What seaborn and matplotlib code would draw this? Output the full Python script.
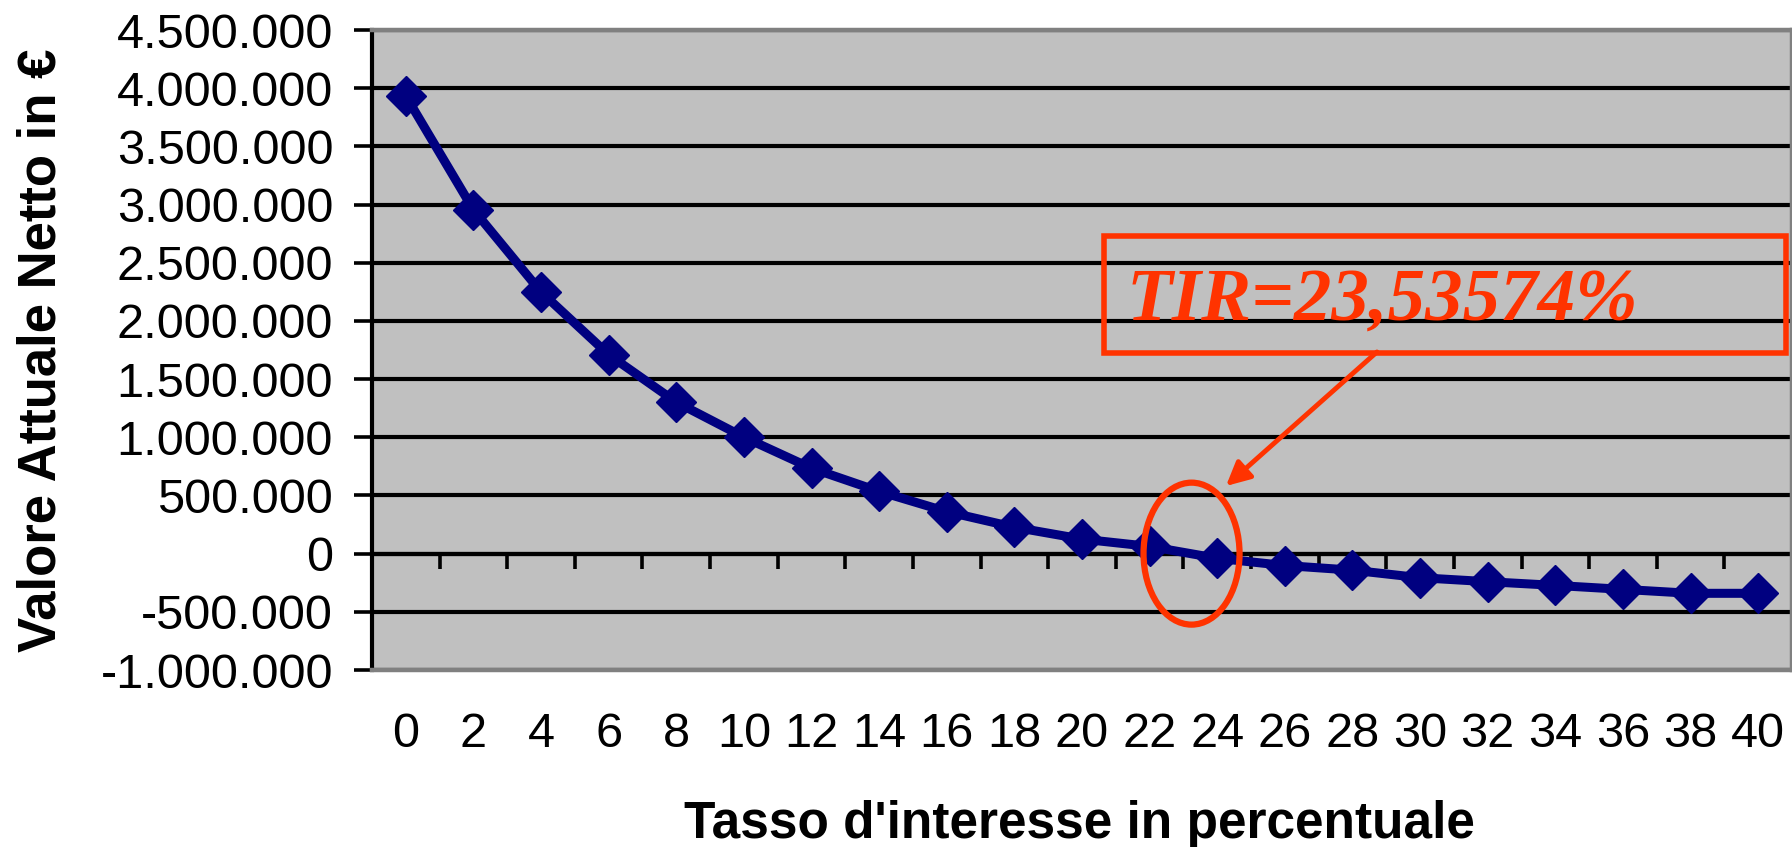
import numpy as np
import pandas as pd
import matplotlib
matplotlib.use("Agg")
import matplotlib.pyplot as plt
from matplotlib.ticker import FuncFormatter
from matplotlib.patches import Ellipse, Rectangle
import seaborn as sns

# ---- data ----
tassi = [0, 2, 4, 6, 8, 10, 12, 14, 16, 18, 20, 22, 24, 26, 28, 30, 32, 34, 36, 38, 40]
van = [3933000, 2955000, 2249000, 1710000, 1302000, 1001000, 734000, 535000,
       361000, 227000, 125000, 62000, -40000, -102000, -142000, -207000,
       -241000, -273000, -307000, -341000, -341000]
y_ticks = list(range(-1000000, 4500001, 500000))
tir_text = "TIR=23,53574%"
x_label = "Tasso d'interesse in percentuale"
y_label = "Valore Attuale Netto in €"

RED = "#FF3300"
NAVY = "#000080"

sns.set_style("white")
plt.rcParams['font.family'] = ['Liberation Sans', 'DejaVu Sans']
plt.rcParams['text.color'] = 'black'
plt.rcParams['axes.labelcolor'] = 'black'
plt.rcParams['xtick.color'] = 'black'
plt.rcParams['ytick.color'] = 'black'

W, H = 1792, 847
fig = plt.figure(figsize=(W / 100, H / 100), dpi=100)
fig.patch.set_facecolor("white")
rect = [372 / W, 1 - 670 / H, 1420 / W, 640 / H]
ax = fig.add_axes(rect)

pos = np.arange(len(tassi))
df = pd.DataFrame({"pos": pos, "van": van})

# twin axis (below main) carrying the grey background and the tick marks on the zero line
ax2 = ax.twiny()
ax2.set_zorder(ax.get_zorder() - 1)
ax2.patch.set_visible(True)
ax2.patch.set_facecolor("#C0C0C0")
ax.patch.set_visible(False)

sns.lineplot(data=df, x="pos", y="van", ax=ax, color=NAVY, linewidth=6.5,
             marker="D", markersize=20.5, markeredgecolor=NAVY,
             markeredgewidth=1, zorder=5)

ax.set_xlim(-0.5, len(tassi) - 0.5)
ax.set_ylim(y_ticks[0], y_ticks[-1])
ax.set_yticks(y_ticks)
ax.yaxis.set_major_formatter(FuncFormatter(lambda v, p: f"{int(round(v)):,}".replace(",", ".")))
ax.set_xticks(pos)
ax.set_xticklabels([str(t) for t in tassi])
ax.tick_params(axis="x", length=0, pad=30, labelsize=35, colors="black")
ax.tick_params(axis="y", length=13, width=2.6, direction="out", pad=15,
               labelsize=35, color="black", labelcolor="black", left=True)
ax.grid(axis="y", color="black", linewidth=3)
ax.grid(axis="x", visible=False)
ax.set_axisbelow(True)
for s in ["top", "right", "bottom"]:
    ax.spines[s].set_color("#808080")
    ax.spines[s].set_linewidth(3.2)
ax.spines["left"].set_color("black")
ax.spines["left"].set_linewidth(3)

ax2.set_xlim(ax.get_xlim())
ax2.set_xticks(pos[:-1] + 0.5)
ax2.xaxis.set_ticks_position("bottom")
ax2.spines["bottom"].set_position(("data", 0))
ax2.spines["bottom"].set_color("black")
ax2.spines["bottom"].set_linewidth(3)
ax2.tick_params(axis="x", direction="out", length=11, width=2.6, color="black",
                labelbottom=False, labeltop=False, top=False, bottom=True)
for s in ["top", "left", "right"]:
    ax2.spines[s].set_visible(False)

ax.set_xlabel(x_label, fontsize=37, fontweight="bold", color="black")
ax.set_ylabel(y_label, fontsize=38, fontweight="bold", color="black")
ax.xaxis.set_label_coords(0.498, -0.242)
ax.xaxis.label.set_va("center")
ax.yaxis.set_label_coords(-0.2327, 0.5)
ax.yaxis.label.set_va("center")

# annotation: box, text, arrow, ellipse
ax.add_patch(Rectangle((0.5155, 0.4953), 0.4803, 0.1828, transform=ax.transAxes,
                       fill=False, edgecolor=RED, linewidth=4, zorder=7, clip_on=False))
ax.text(0.5317, 0.548, tir_text, transform=ax.transAxes, ha="left", va="baseline",
        color=RED, fontsize=54, fontweight="bold", fontstyle="italic",
        family=["Liberation Serif", "DejaVu Serif"], zorder=8)
ax.annotate("", xy=(0.6014, 0.2875), xytext=(0.7077, 0.4969),
            xycoords="axes fraction", textcoords="axes fraction",
            arrowprops=dict(arrowstyle="-|>", color=RED, lw=3.5, mutation_scale=36,
                            shrinkA=0, shrinkB=0), zorder=8)
ax.add_patch(Ellipse((11.62, 0), 1.42, 1220000, fill=False, edgecolor=RED,
                     linewidth=4.5, zorder=7))

fig.savefig("out.png", dpi=100, facecolor="white")
